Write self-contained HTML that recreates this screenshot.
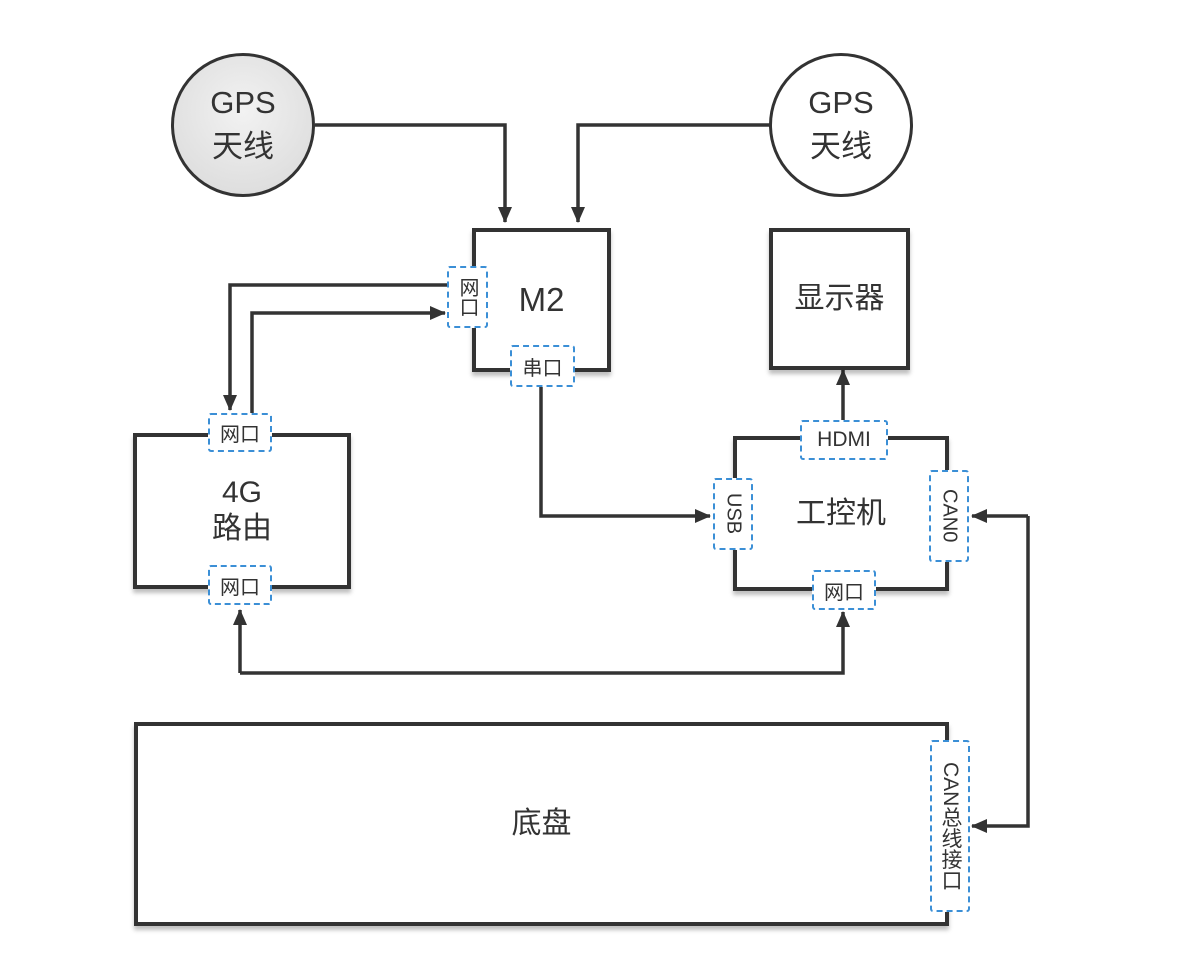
<!DOCTYPE html>
<html><head><meta charset="utf-8"><style>
body{margin:0;background:#fff;}
#c{position:relative;width:1186px;height:961px;overflow:hidden;font-family:"Liberation Sans","Noto Sans CJK SC",sans-serif;color:#333;}
.box{position:absolute;border:4px solid #333;background:#fff;box-shadow:0 4px 4px rgba(0,0,0,.25);box-sizing:border-box;display:flex;align-items:center;justify-content:center;text-align:center;font-size:30px;line-height:36px;}
.port{position:absolute;border:2.5px dashed #3b8fd6;background:#fff;box-sizing:border-box;display:flex;align-items:center;justify-content:center;font-size:20px;color:#333;border-radius:3px;}
.v{writing-mode:vertical-rl;}
.circ{position:absolute;width:144px;height:144px;border:3px solid #333;border-radius:50%;box-sizing:border-box;display:flex;align-items:center;justify-content:center;text-align:center;font-size:31px;line-height:44px;}
svg{position:absolute;left:0;top:0;}
</style></head><body><div id="c">
<svg width="1186" height="961">
<defs>
<marker id="b" markerWidth="16" markerHeight="14" refX="15" refY="7" orient="auto" markerUnits="userSpaceOnUse"><path d="M0,0 L16,7 L0,14 z" fill="#333"/></marker></defs>
<g fill="none" stroke="#333" stroke-width="3.5">
<polyline points="315,125 505,125 505,222" marker-end="url(#b)"/>
<polyline points="770,125 578,125 578,222" marker-end="url(#b)"/>
<polyline points="447,285 230,285 230,410" marker-end="url(#b)"/>
<polyline points="252,413 252,313 445,313" marker-end="url(#b)"/>
<polyline points="541,387 541,516 710,516" marker-end="url(#b)"/>
<polyline points="843,420 843,370" marker-end="url(#b)"/>
<polyline points="240,673 240,610" marker-end="url(#b)"/>
<polyline points="240,673 843,673 843,612" marker-end="url(#b)"/>
<polyline points="1028,516 972,516" marker-end="url(#b)"/>
<polyline points="1028,516 1028,826 972,826" marker-end="url(#b)"/>
</g></svg>
<div class="circ" style="left:171px;top:53px;background:radial-gradient(circle at 50% 40%,#f2f2f2,#d8d8d8);">GPS<br>天线</div>
<div class="circ" style="left:769px;top:53px;background:#fff;">GPS<br>天线</div>
<div class="box" style="left:472px;top:228px;width:139px;height:144px;font-size:33px;">M2</div>
<div class="box" style="left:769px;top:228px;width:141px;height:142px;">显示器</div>
<div class="box" style="left:733px;top:436px;width:216px;height:155px;">工控机</div>
<div class="box" style="left:133px;top:433px;width:218px;height:156px;">4G<br>路由</div>
<div class="box" style="left:134px;top:722px;width:815px;height:204px;">底盘</div>
<div class="port v" style="left:447px;top:266px;width:41px;height:62px;">网口</div>
<div class="port" style="left:510px;top:345px;width:65px;height:42px;">串口</div>
<div class="port" style="left:800px;top:420px;width:88px;height:40px;font-size:21px;">HDMI</div>
<div class="port v" style="left:713px;top:478px;width:40px;height:72px;">USB</div>
<div class="port v" style="left:929px;top:470px;width:40px;height:92px;">CAN0</div>
<div class="port" style="left:812px;top:570px;width:64px;height:40px;">网口</div>
<div class="port" style="left:208px;top:413px;width:64px;height:39px;">网口</div>
<div class="port" style="left:208px;top:565px;width:64px;height:40px;">网口</div>
<div class="port v" style="left:930px;top:740px;width:40px;height:172px;font-size:21px;">CAN总线接口</div>
</div></body></html>
